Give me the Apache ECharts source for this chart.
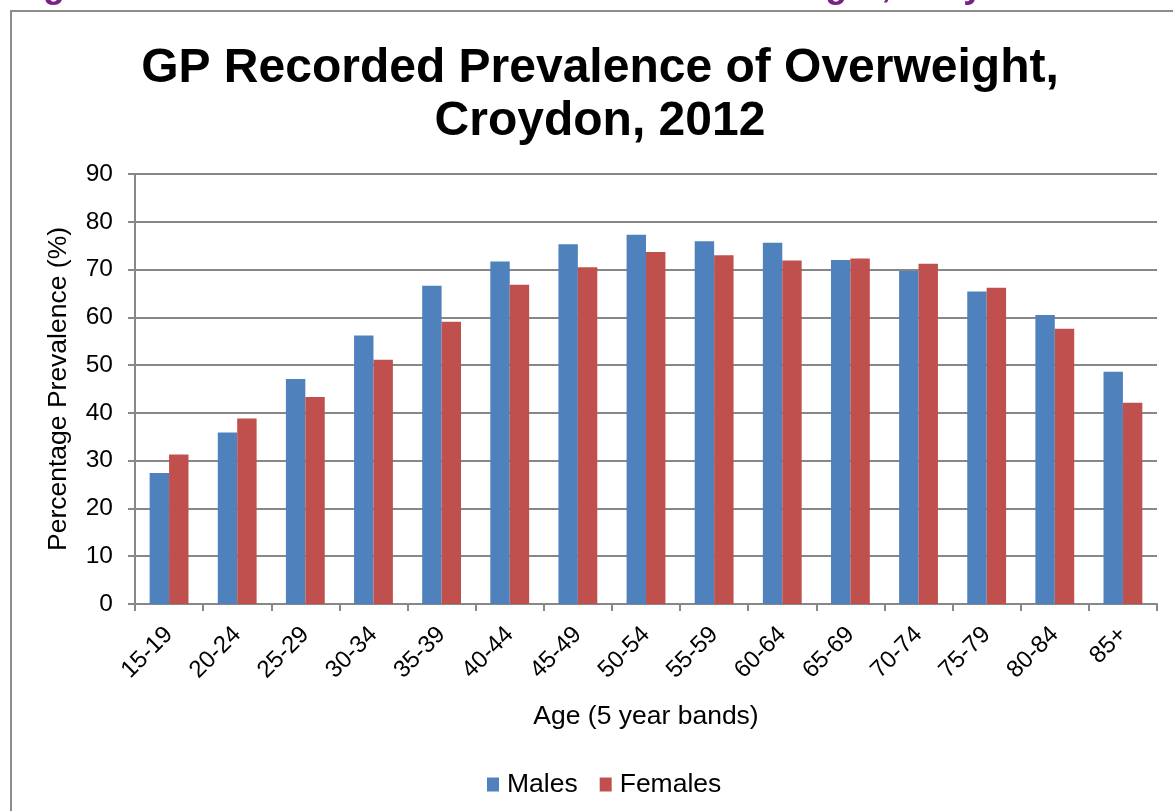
<!DOCTYPE html>
<html>
<head>
<meta charset="utf-8">
<script src="https://cdn.jsdelivr.net/npm/echarts@6/dist/echarts.min.js"></script>
<style>
  html, body { margin: 0; padding: 0; background: #ffffff; }
  #chart { width: 1173px; height: 811px; }
</style>
</head>
<body>
<div id="chart"></div>
<script>
// Age bands and GP recorded prevalence of overweight (%)
const ageBands = ['15-19', '20-24', '25-29', '30-34', '35-39', '40-44', '45-49', '50-54',
                  '55-59', '60-64', '65-69', '70-74', '75-79', '80-84', '85+'];
const males   = [27.4, 35.9, 47.1, 56.2, 66.6, 71.7, 75.3, 77.3, 75.9, 75.6, 72.0, 69.7, 65.4, 60.5, 48.6];
const females = [31.3, 38.8, 43.3, 51.1, 59.1, 66.8, 70.5, 73.7, 73.0, 71.9, 72.3, 71.2, 66.2, 57.6, 42.1];
const seriesNames = ['Males', 'Females'];

const FONT = 'Arial, "Liberation Sans", sans-serif';
const GRID_GREY = '#878787';

const chart = echarts.init(document.getElementById('chart'), null, { renderer: 'canvas' });

chart.setOption({
  backgroundColor: '#ffffff',
  animation: false,
  title: {
    text: 'GP Recorded Prevalence of Overweight,\nCroydon, 2012',
    left: 595,
    textAlign: 'center',
    top: 37,
    textStyle: {
      fontFamily: FONT,
      fontSize: 48,
      fontWeight: 'bold',
      color: '#000000',
      lineHeight: 53
    }
  },
  graphic: [
    {
      // document caption running off the top edge
      type: 'text',
      left: 11,
      top: -31,
      silent: true,
      style: {
        text: 'Figure 6.3: GP Recorded Prevalence of Overweight, Croydon 2012',
        font: 'bold 36px ' + FONT,
        fill: '#7B2181'
      }
    },
    {
      type: 'rect',
      silent: true,
      shape: { x: 11, y: 11, width: 1200, height: 900 },
      style: { fill: 'none', stroke: '#8c8c8c', lineWidth: 2 }
    }
  ],
  legend: {
    data: seriesNames,
    bottom: 8,
    left: 482,
    icon: 'rect',
    itemWidth: 12,
    itemHeight: 14,
    itemGap: 22,
    textStyle: { fontFamily: FONT, fontSize: 26.5, color: '#000000', padding: [0, 0, 0, 3] }
  },
  grid: { left: 135, right: 16, top: 174, bottom: 207, containLabel: false },
  xAxis: {
    type: 'category',
    data: ageBands,
    name: 'Age (5 year bands)',
    nameLocation: 'middle',
    nameGap: 99,
    nameTextStyle: { fontFamily: FONT, fontSize: 26.5, color: '#000000' },
    axisLine: { show: true, lineStyle: { color: GRID_GREY, width: 2 } },
    axisTick: { show: true, length: 7, lineStyle: { color: GRID_GREY, width: 2 } },
    axisLabel: {
      rotate: 45,
      margin: 27,
      fontFamily: FONT,
      fontSize: 24,
      color: '#000000',
      interval: 0
    }
  },
  yAxis: {
    type: 'value',
    min: 0,
    max: 90,
    interval: 10,
    name: 'Percentage Prevalence (%)',
    nameLocation: 'middle',
    nameRotate: 90,
    nameGap: 63,
    nameTextStyle: { fontFamily: FONT, fontSize: 26.5, color: '#000000' },
    axisLine: { show: true, lineStyle: { color: GRID_GREY, width: 2 } },
    axisTick: { show: true, length: 7, lineStyle: { color: GRID_GREY, width: 2 } },
    axisLabel: { margin: 22, fontFamily: FONT, fontSize: 24.5, color: '#000000' },
    splitLine: { show: true, lineStyle: { color: GRID_GREY, width: 2 } }
  },
  series: [
    {
      name: seriesNames[0],
      type: 'bar',
      data: males,
      barGap: '0%',
      barCategoryGap: '43%',
      itemStyle: { color: '#4F81BD' }
    },
    {
      name: seriesNames[1],
      type: 'bar',
      data: females,
      barGap: '0%',
      barCategoryGap: '43%',
      itemStyle: { color: '#C0504D' }
    }
  ]
});
</script>
</body>
</html>
